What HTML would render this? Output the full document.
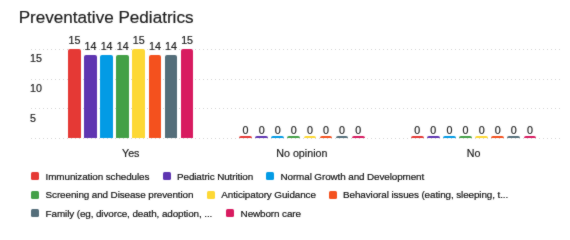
<!DOCTYPE html>
<html><head><meta charset="utf-8"><style>
html,body{margin:0;padding:0;background:#fff;width:570px;height:240px;overflow:hidden}
body{position:relative;font-family:"Liberation Sans",sans-serif;color:#1c1c1c}
.a,.v,.c,.y,.t{-webkit-text-stroke:0.2px currentColor}
.a{position:absolute;white-space:nowrap;line-height:1}
.g{position:absolute;left:30.9px;width:529.4px;height:1px;background:repeating-linear-gradient(to right,#d4d4d4 0 1.2px,transparent 1.2px 4px)}
.b{position:absolute;border-radius:2px 2px 0 0}
.v{position:absolute;width:30px;text-align:center;font-size:10.7px;line-height:1;color:#1c1c1c}
.c{position:absolute;width:120px;text-align:center;font-size:10.7px;line-height:1;color:#1c1c1c}
.y{position:absolute;left:30px;font-size:10.7px;line-height:1}
.s{position:absolute;width:8px;height:8px;border-radius:1.5px}
.t{position:absolute;font-size:9.9px;letter-spacing:-0.1px;line-height:1;white-space:nowrap;color:#111}
</style></head><body><svg width="0" height="0" style="position:absolute"><filter id="sb" x="0" y="0" width="100%" height="100%" color-interpolation-filters="sRGB"><feConvolveMatrix order="3" kernelMatrix="0.5 1 0.5 1 12 1 0.5 1 0.5" edgeMode="duplicate"/></filter></svg><div style="position:absolute;left:0;top:0;width:570px;height:240px;filter:url(#sb)">
<div class="a" style="left:18.7px;top:9.2px;font-size:17.1px">Preventative Pediatrics</div>

<div class="g" style="top:49px"></div>
<div class="g" style="top:79px"></div>
<div class="g" style="top:108px"></div>
<div class="g" style="top:138px"></div>
<div class="y" style="top:53.25px">15</div>
<div class="y" style="top:83.00px">10</div>
<div class="y" style="top:112.75px">5</div>
<div class="b" style="left:68.10px;top:48.75px;width:12.7px;height:89.25px;background:#e53935"></div>
<div class="v" style="left:59.45px;top:35.25px">15</div>
<div class="b" style="left:84.19px;top:54.70px;width:12.7px;height:83.30px;background:#5e35b1"></div>
<div class="v" style="left:75.54px;top:41.20px">14</div>
<div class="b" style="left:100.28px;top:54.70px;width:12.7px;height:83.30px;background:#039be5"></div>
<div class="v" style="left:91.63px;top:41.20px">14</div>
<div class="b" style="left:116.37px;top:54.70px;width:12.7px;height:83.30px;background:#43a047"></div>
<div class="v" style="left:107.72px;top:41.20px">14</div>
<div class="b" style="left:132.46px;top:48.75px;width:12.7px;height:89.25px;background:#fdd835"></div>
<div class="v" style="left:123.81px;top:35.25px">15</div>
<div class="b" style="left:148.55px;top:54.70px;width:12.7px;height:83.30px;background:#f4511e"></div>
<div class="v" style="left:139.90px;top:41.20px">14</div>
<div class="b" style="left:164.64px;top:54.70px;width:12.7px;height:83.30px;background:#546e7a"></div>
<div class="v" style="left:155.99px;top:41.20px">14</div>
<div class="b" style="left:180.73px;top:48.75px;width:12.7px;height:89.25px;background:#d81b60"></div>
<div class="v" style="left:172.08px;top:35.25px">15</div>
<div class="c" style="left:70.76px;top:148.00px">Yes</div>
<div class="b" style="left:239.20px;top:136.00px;width:12.7px;height:2.00px;background:#e53935"></div>
<div class="v" style="left:230.55px;top:124.50px">0</div>
<div class="b" style="left:255.29px;top:136.00px;width:12.7px;height:2.00px;background:#5e35b1"></div>
<div class="v" style="left:246.64px;top:124.50px">0</div>
<div class="b" style="left:271.38px;top:136.00px;width:12.7px;height:2.00px;background:#039be5"></div>
<div class="v" style="left:262.73px;top:124.50px">0</div>
<div class="b" style="left:287.47px;top:136.00px;width:12.7px;height:2.00px;background:#43a047"></div>
<div class="v" style="left:278.82px;top:124.50px">0</div>
<div class="b" style="left:303.56px;top:136.00px;width:12.7px;height:2.00px;background:#fdd835"></div>
<div class="v" style="left:294.91px;top:124.50px">0</div>
<div class="b" style="left:319.65px;top:136.00px;width:12.7px;height:2.00px;background:#f4511e"></div>
<div class="v" style="left:311.00px;top:124.50px">0</div>
<div class="b" style="left:335.74px;top:136.00px;width:12.7px;height:2.00px;background:#546e7a"></div>
<div class="v" style="left:327.09px;top:124.50px">0</div>
<div class="b" style="left:351.83px;top:136.00px;width:12.7px;height:2.00px;background:#d81b60"></div>
<div class="v" style="left:343.18px;top:124.50px">0</div>
<div class="c" style="left:241.87px;top:148.00px">No opinion</div>
<div class="b" style="left:410.90px;top:136.00px;width:12.7px;height:2.00px;background:#e53935"></div>
<div class="v" style="left:402.25px;top:124.50px">0</div>
<div class="b" style="left:426.99px;top:136.00px;width:12.7px;height:2.00px;background:#5e35b1"></div>
<div class="v" style="left:418.34px;top:124.50px">0</div>
<div class="b" style="left:443.08px;top:136.00px;width:12.7px;height:2.00px;background:#039be5"></div>
<div class="v" style="left:434.43px;top:124.50px">0</div>
<div class="b" style="left:459.17px;top:136.00px;width:12.7px;height:2.00px;background:#43a047"></div>
<div class="v" style="left:450.52px;top:124.50px">0</div>
<div class="b" style="left:475.26px;top:136.00px;width:12.7px;height:2.00px;background:#fdd835"></div>
<div class="v" style="left:466.61px;top:124.50px">0</div>
<div class="b" style="left:491.35px;top:136.00px;width:12.7px;height:2.00px;background:#f4511e"></div>
<div class="v" style="left:482.70px;top:124.50px">0</div>
<div class="b" style="left:507.44px;top:136.00px;width:12.7px;height:2.00px;background:#546e7a"></div>
<div class="v" style="left:498.79px;top:124.50px">0</div>
<div class="b" style="left:523.53px;top:136.00px;width:12.7px;height:2.00px;background:#d81b60"></div>
<div class="v" style="left:514.88px;top:124.50px">0</div>
<div class="c" style="left:413.56px;top:148.00px">No</div>
<div class="s" style="left:31.30px;top:172.00px;background:#e53935"></div>
<div class="t" style="left:45.60px;top:171.70px">Immunization schedules</div>
<div class="s" style="left:162.70px;top:172.00px;background:#5e35b1"></div>
<div class="t" style="left:177.00px;top:171.70px">Pediatric Nutrition</div>
<div class="s" style="left:266.20px;top:172.00px;background:#039be5"></div>
<div class="t" style="left:280.50px;top:171.70px">Normal Growth and Development</div>
<div class="s" style="left:31.30px;top:190.70px;background:#43a047"></div>
<div class="t" style="left:45.60px;top:190.40px">Screening and Disease prevention</div>
<div class="s" style="left:207.00px;top:190.70px;background:#fdd835"></div>
<div class="t" style="left:221.30px;top:190.40px">Anticipatory Guidance</div>
<div class="s" style="left:328.80px;top:190.70px;background:#f4511e"></div>
<div class="t" style="left:343.10px;top:190.40px">Behavioral issues (eating, sleeping, t...</div>
<div class="s" style="left:31.30px;top:209.40px;background:#546e7a"></div>
<div class="t" style="left:45.60px;top:209.10px">Family (eg, divorce, death, adoption, ...</div>
<div class="s" style="left:226.30px;top:209.40px;background:#d81b60"></div>
<div class="t" style="left:240.60px;top:209.10px">Newborn care</div>
</div></body></html>
